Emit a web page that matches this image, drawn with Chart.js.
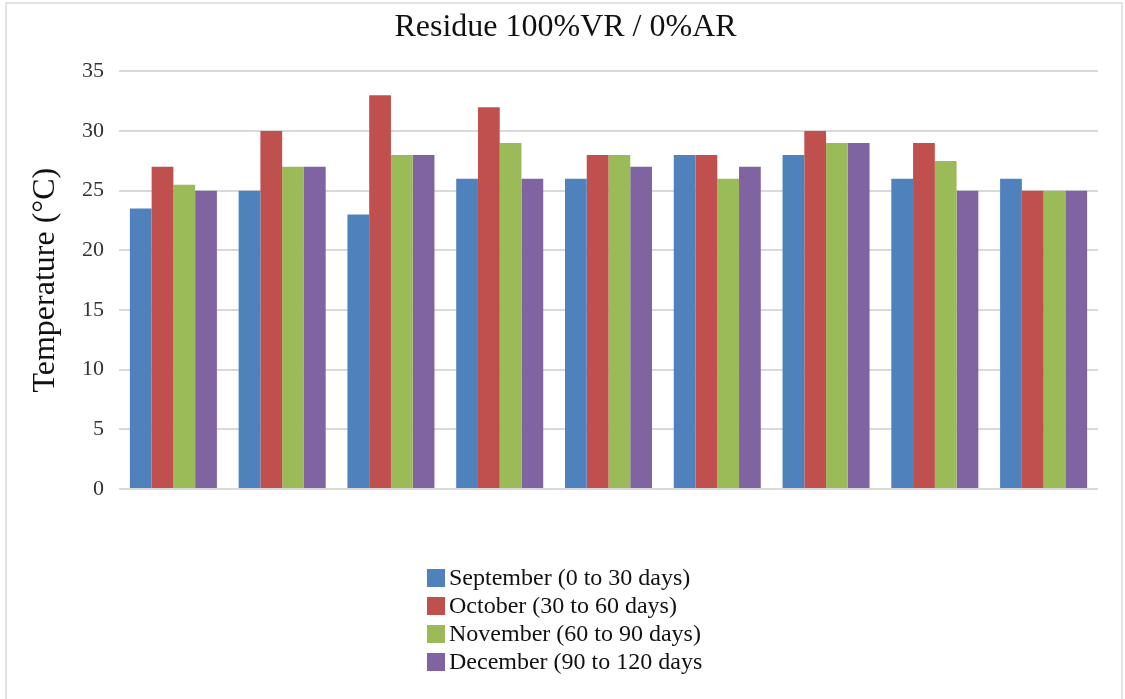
<!DOCTYPE html>
<html>
<head>
<meta charset="utf-8">
<script src="https://cdn.jsdelivr.net/npm/chart.js@4"></script>
<style>
  body { margin: 0; background: #fff; }
  #wrap { position: relative; width: 1125px; height: 699px; }
</style>
</head>
<body>
<div id="wrap"><canvas id="myChart"></canvas></div>
<script>
  // values, one array per month
  var Categories = ['1', '2', '3', '4', '5', '6', '7', '8', '9'];
  var September = [23.5, 25, 23, 26, 26, 28, 28, 26, 26];
  var October = [27, 30, 33, 32, 28, 28, 30, 29, 25];
  var November = [25.5, 27, 28, 29, 28, 26, 29, 27.5, 25];
  var December = [25, 27, 28, 26, 27, 27, 29, 25, 25];
  var SeriesNames = ['September (0 to 30 days)', 'October (30 to 60 days)', 'November (60 to 90 days)', 'December (90 to 120 days'];
  var YTicks = [0, 5, 10, 15, 20, 25, 30, 35];

  var colors = ['#4F81BD', '#C0504D', '#9BBB59', '#8064A2'];
  var serif = "'Liberation Serif', 'Times New Roman', serif";

  // legend stacked one entry per line under the plot, plus the frame
  var listLegend = {
    id: 'listLegend',
    afterDraw: function (chart) {
      var ctx = chart.ctx;
      ctx.save();
      ctx.strokeStyle = '#e3e3e3';
      ctx.lineWidth = 2;
      ctx.strokeRect(6, 3, 1116, 700);
      ctx.font = '24px ' + serif;
      ctx.textBaseline = 'middle';
      chart.data.datasets.forEach(function (ds, i) {
        var y = 578 + i * 28;
        ctx.fillStyle = ds.backgroundColor;
        ctx.fillRect(427, y - 9, 18, 18);
        ctx.fillStyle = '#111';
        ctx.fillText(ds.label, 449, y + 1);
      });
      ctx.restore();
    }
  };

  function createBarGraph() {
    var sets = [September, October, November, December];
    let barChart = new Chart('myChart', {
      type: 'bar',
      data: {
        labels: Categories,
        datasets: sets.map(function (vals, i) {
          return {
            label: SeriesNames[i],
            data: vals,
            backgroundColor: colors[i],
            borderWidth: 0,
            categoryPercentage: 0.8,
            barPercentage: 1.0
          };
        })
      },
      options: {
        responsive: true,
        maintainAspectRatio: false,
        animation: false,
        layout: { padding: { left: 6, right: 0, top: 0, bottom: 202 } },
        plugins: {
          legend: { display: false },
          tooltip: { enabled: false },
          title: {
            display: true,
            text: 'Residue 100%VR / 0%AR',
            color: '#111',
            font: { family: serif, size: 32, weight: 'normal' },
            padding: { top: 8, bottom: 25 }
          }
        },
        scales: {
          x: {
            grid: { display: false },
            border: { display: false },
            ticks: { display: false }
          },
          y: {
            min: 0,
            max: 35,
            afterBuildTicks: function (scale) {
              scale.ticks = YTicks.map(function (v) { return { value: v }; });
            },
            afterFit: function (scale) { scale.width = 113; },
            grid: { color: '#d9d9d9', lineWidth: 2, drawTicks: false },
            border: { display: false },
            ticks: {
              color: '#333',
              padding: 15,
              font: { family: serif, size: 22 }
            },
            title: {
              display: true,
              text: 'Temperature (°C)',
              color: '#111',
              font: { family: serif, size: 32 },
              padding: { top: 20, bottom: 0 }
            }
          },
          // empty right margin so the plot ends where the reference's does
          yRight: {
            position: 'right',
            grid: { display: false },
            border: { display: false },
            ticks: { display: false },
            afterFit: function (scale) { scale.width = 27; }
          }
        }
      },
      plugins: [listLegend]
    });
  }

  createBarGraph();
</script>
</body>
</html>
